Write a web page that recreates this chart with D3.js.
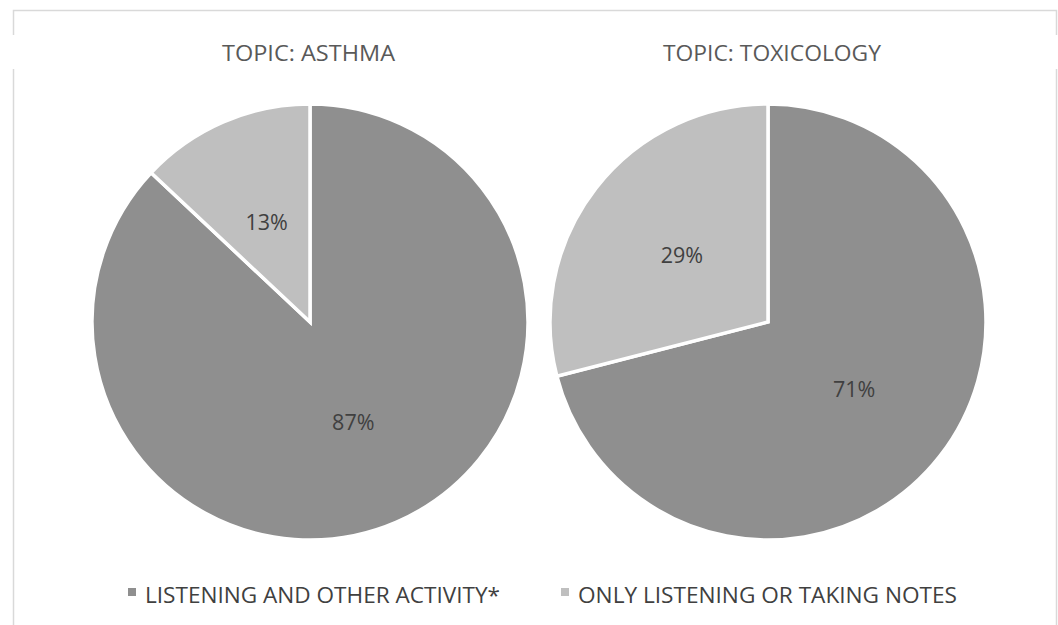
<!DOCTYPE html>
<html><head><meta charset="utf-8">
<script src="https://cdn.jsdelivr.net/npm/d3@7"></script>
<style>html,body{margin:0;padding:0;background:#fff;}svg{display:block;}</style>
</head><body>
<script>
const categories = ["LISTENING AND OTHER ACTIVITY*", "ONLY LISTENING OR TAKING NOTES"];
const topics = ["TOPIC: ASTHMA", "TOPIC: TOXICOLOGY"];
const asthmaValues = [87, 13];
const toxicologyValues = [71, 29];
const colors = ["#8f8f8f", "#bfbfbf"];

const W = 1058, H = 625;
const svg = d3.select("body").append("svg").attr("width", W).attr("height", H);
const font = "'Open Sans', 'Noto Sans', sans-serif";

// frame
svg.append("path").attr("d", "M13.5,35 V10.5 H1056.5 V35").attr("fill","none").attr("stroke","#d9d9d9").attr("stroke-width",1.5);
svg.append("path").attr("d", "M13.5,69 V625").attr("stroke","#d9d9d9").attr("stroke-width",1.5);
svg.append("path").attr("d", "M1056.5,69 V625").attr("stroke","#d9d9d9").attr("stroke-width",1.5);

const R = 218;
const pies = [
  {title: topics[0], values: asthmaValues, cx: 310, titleX: 308.5, titleW: 173},
  {title: topics[1], values: toxicologyValues, cx: 768, titleX: 772, titleW: 218}
];
const cy = 322;
const pie = d3.pie().sort(null).value(d => d);
const arc = d3.arc().innerRadius(0).outerRadius(R);
const labelArc = d3.arc().innerRadius(R*0.5).outerRadius(R*0.5);

pies.forEach(p => {
  svg.append("text").attr("x", p.titleX).attr("y", 61)
    .attr("text-anchor","middle").attr("font-family", font).attr("font-size", 22)
    .attr("fill","#595959").attr("textLength", p.titleW).attr("lengthAdjust","spacingAndGlyphs")
    .text(p.title);
  const g = svg.append("g").attr("transform", `translate(${p.cx},${cy})`);
  const arcs = pie(p.values);
  g.selectAll("path").data(arcs).join("path")
    .attr("d", arc).attr("fill", (d,i) => colors[i])
    .attr("stroke","#fff").attr("stroke-width",3.5).attr("stroke-linejoin","miter");
  g.selectAll("text").data(arcs).join("text")
    .attr("transform", d => `translate(${labelArc.centroid(d)})`)
    .attr("text-anchor","middle").attr("dy","0.36em")
    .attr("font-family", font).attr("font-size", 21.5).attr("fill","#404040")
    .text(d => d.data + "%");
});

// legend
const legend = [
  {x: 128, tx: 145, w: 355},
  {x: 561, tx: 578, w: 379}
];
categories.forEach((c, i) => {
  svg.append("rect").attr("x", legend[i].x).attr("y", 588).attr("width", 8).attr("height", 8).attr("fill", colors[i]);
  svg.append("text").attr("x", legend[i].tx).attr("y", 603)
    .attr("font-family", font).attr("font-size", 22).attr("fill","#404040")
    .attr("textLength", legend[i].w).attr("lengthAdjust","spacingAndGlyphs")
    .text(c);
});
</script>
</body></html>
